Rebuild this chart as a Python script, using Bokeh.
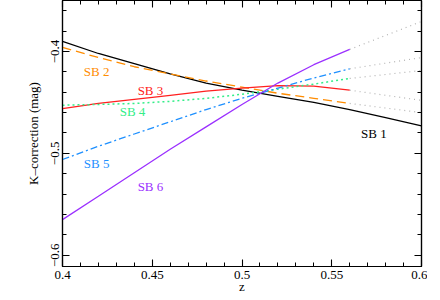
from bokeh.plotting import figure
from bokeh.models import LinearAxis, FixedTicker, Range1d, CustomJSTickFormatter
from bokeh.embed import file_html
from bokeh.resources import INLINE
from bokeh.core.properties import value

# redshift grids
z_main = [0.40, 0.42, 0.44, 0.46, 0.48, 0.50, 0.52, 0.54, 0.56]
z_sb1 = [0.40, 0.42, 0.44, 0.46, 0.48, 0.50, 0.52, 0.54, 0.56, 0.58, 0.60]
z_ext = [0.56, 0.60]

# K-corrections (mag)
sb1 = [-0.390, -0.402, -0.412, -0.422, -0.431, -0.438, -0.444, -0.450, -0.457, -0.465, -0.473]
sb2 = [-0.396, -0.406, -0.415, -0.422, -0.429, -0.435, -0.441, -0.446, -0.451]
sb3 = [-0.456, -0.451, -0.447, -0.443, -0.439, -0.436, -0.4335, -0.434, -0.438]
sb4 = [-0.4527, -0.452, -0.451, -0.449, -0.446, -0.442, -0.437, -0.432, -0.4265]
sb5 = [-0.506, -0.493, -0.481, -0.469, -0.457, -0.446, -0.436, -0.426, -0.417]
sb6 = [-0.565, -0.542, -0.519, -0.496, -0.474, -0.452, -0.431, -0.413, -0.398]

# extrapolated (dotted grey) ends at z = 0.60
sb2_ext = [-0.451, -0.460]
sb3_ext = [-0.438, -0.448]
sb4_ext = [-0.4265, -0.4187]
sb5_ext = [-0.417, -0.406]
sb6_ext = [-0.398, -0.3706]

# labels
label_text = ["SB 1", "SB 2", "SB 3", "SB 4", "SB 5", "SB 6"]
label_z = [0.5735, 0.4190, 0.4490, 0.4390, 0.4190, 0.4490]
label_k = [-0.4805, -0.4197, -0.4383, -0.4589, -0.5100, -0.5325]

x_major = [0.40, 0.45, 0.50, 0.55, 0.60]
x_minor = [round(0.40 + 0.01 * i, 2) for i in range(21)]
y_major = [-0.6, -0.5, -0.4]
y_minor = [round(-0.62 + 0.02 * i, 2) for i in range(15)]

FONT = "Liberation Serif"
colors = ["black", "#ff8c00", "#ff2020", "#33ee88", "#1e90ff", "#9b30ff"]

p = figure(frame_width=359, frame_height=266,
           x_range=Range1d(0.4, 0.6), y_range=Range1d(-0.611, -0.35),
           output_backend="svg", toolbar_location=None,
           min_border_left=62, min_border_right=6, min_border_top=0, min_border_bottom=0,
           x_axis_label="z", y_axis_label="K\u2013correction (mag)")
p.xgrid.visible = False
p.ygrid.visible = False
p.outline_line_color = "black"
p.outline_line_width = 1.2
p.background_fill_color = "white"
p.border_fill_color = "white"

def style_axis(ax, ticks, minor, labels=True):
    ax.ticker = FixedTicker(ticks=ticks, minor_ticks=minor)
    ax.axis_line_color = "black"
    ax.axis_line_width = 1.2
    ax.major_tick_in = 7
    ax.major_tick_out = 0
    ax.minor_tick_in = 4
    ax.minor_tick_out = 0
    ax.major_tick_line_width = 1.1
    ax.minor_tick_line_width = 1.0
    ax.major_tick_line_color = "black"
    ax.minor_tick_line_color = "black"
    ax.major_label_text_font = FONT
    ax.major_label_text_font_size = "13px"
    ax.major_label_text_color = "black"
    ax.axis_label_text_font = FONT
    ax.axis_label_text_font_size = "13px"
    ax.axis_label_text_font_style = "normal"
    ax.axis_label_text_color = "black"
    if not labels:
        ax.formatter = CustomJSTickFormatter(code="return '';")
        ax.major_label_standoff = 0

style_axis(p.xaxis[0], x_major, x_minor)
style_axis(p.yaxis[0], y_major, y_minor)
p.xaxis[0].major_label_standoff = 4
p.xaxis[0].axis_label_standoff = -3
p.yaxis[0].major_label_orientation = "parallel"
p.yaxis[0].major_label_standoff = 3
p.yaxis[0].axis_label_standoff = 8

top = LinearAxis()
style_axis(top, x_major, x_minor, labels=False)
p.add_layout(top, "above")
right = LinearAxis()
style_axis(right, y_major, y_minor, labels=False)
p.add_layout(right, "right")

# grey dotted extrapolations
for ext in [sb2_ext, sb3_ext, sb4_ext, sb5_ext, sb6_ext]:
    p.line(z_ext, ext, line_color="#b4b4b4", line_width=1.2, line_dash="1 4")

p.line(z_sb1, sb1, line_color=colors[0], line_width=1.3)
p.line(z_main, sb2, line_color=colors[1], line_width=1.3, line_dash="9 5")
p.line(z_main, sb3, line_color=colors[2], line_width=1.3)
p.line(z_main, sb4, line_color=colors[3], line_width=1.5, line_dash="2 3")
p.line(z_main, sb5, line_color=colors[4], line_width=1.3, line_dash="7 3 2 3")
p.line(z_main, sb6, line_color=colors[5], line_width=1.3)

p.text(x=label_z, y=label_k, text=label_text, text_color=colors,
       text_font=value(FONT), text_font_size="13px",
       text_align="center", text_baseline="middle")

open("out.html", "w").write(file_html(p, INLINE))
